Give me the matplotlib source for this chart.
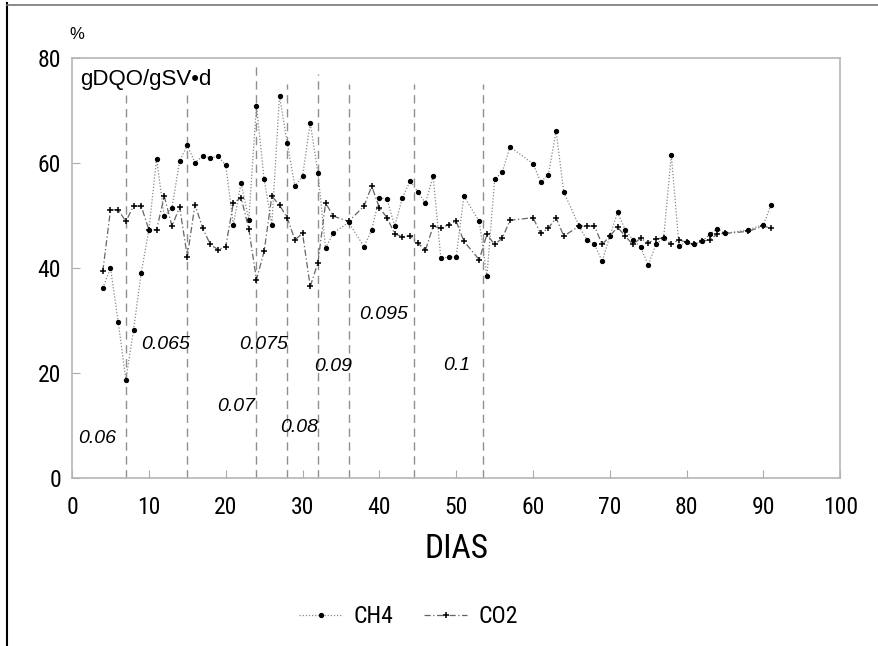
import matplotlib
matplotlib.use("Agg")
import matplotlib.pyplot as plt
from matplotlib.lines import Line2D
from matplotlib import font_manager

def pick_narrow():
    cands = []
    for f in font_manager.fontManager.ttflist:
        n = f.name
        low = f.fname.lower()
        if ('narrow' in n.lower() or 'condensed' in n.lower()) and 'bold' not in low \
                and 'italic' not in low and 'oblique' not in low:
            cands.append(f.name)
    for pref in ['Liberation Sans Narrow', 'Roboto Condensed', 'Open Sans Condensed']:
        if pref in cands:
            return pref
    return 'Liberation Sans'

NARROW = pick_narrow()

days = [4, 5, 6, 7, 8, 9, 10, 11, 12, 13, 14, 15, 16, 17, 18, 19, 20, 21, 22, 23,
        24, 25, 26, 27, 28, 29, 30, 31, 32, 33, 34, 36, 38, 39, 40, 41, 42, 43, 44,
        45, 46, 47, 48, 49, 50, 51, 53, 54, 55, 56, 57, 60, 61, 62, 63, 64, 66, 67,
        68, 69, 70, 71, 72, 73, 74, 75, 76, 77, 78, 79, 80, 81, 82, 83, 84, 85, 88,
        90, 91]

ch4 = [36.2, 40.0, 29.8, 18.7, 28.2, 39.1, 47.3, 60.8, 49.9, 51.5, 60.4, 63.4, 60.1,
       61.3, 61.0, 61.3, 59.6, 48.3, 56.2, 49.2, 70.9, 56.9, 48.3, 72.8, 63.9, 55.6,
       57.5, 67.7, 58.2, 43.8, 46.7, 48.7, 44.1, 47.3, 53.4, 53.1, 48.0, 53.4, 56.6,
       54.5, 52.4, 57.5, 41.9, 42.1, 42.2, 53.7, 48.9, 38.4, 56.9, 58.3, 63.1, 59.9,
       56.4, 57.8, 66.1, 54.5, 48.0, 45.4, 44.5, 41.3, 46.1, 50.6, 47.3, 45.4, 44.0,
       40.6, 44.5, 45.7, 61.6, 44.3, 44.9, 44.5, 45.1, 46.4, 47.5, 46.6, 47.3, 48.3,
       52.1]

co2 = [39.4, 51.1, 51.1, 48.9, 51.8, 51.8, 47.3, 47.3, 53.7, 48.0, 51.6, 42.2, 52.1,
       47.6, 44.5, 43.5, 44.1, 52.4, 53.4, 47.5, 37.8, 43.2, 53.7, 52.0, 49.6, 45.4,
       46.6, 36.5, 41.0, 52.4, 49.9, 48.9, 51.8, 55.6, 51.5, 49.6, 46.5, 46.0, 46.1,
       44.8, 43.4, 48.0, 47.6, 48.3, 48.9, 45.1, 41.6, 46.4, 44.5, 45.7, 49.1, 49.6,
       46.6, 47.6, 49.6, 46.1, 48.0, 48.0, 48.0, 44.5, 46.1, 47.8, 46.1, 44.5, 45.7,
       44.8, 45.6, 45.7, 44.5, 45.4, 44.9, 44.5, 45.1, 45.4, 46.5, 46.6, 47.0, 48.0,
       47.6]

change_days = [7, 15, 24, 28, 32, 36, 44.5, 53.5]
line_tops = [73, 73, 79, 75, 77, 75, 75, 75]
load_labels = ["0.06", "0.065", "0.07", "0.075", "0.08", "0.09", "0.095", "0.1"]
label_x = [3.2, 12.2, 21.4, 24.9, 29.6, 34.0, 40.5, 50.1]
label_y = [7.6, 25.4, 13.6, 25.4, 9.7, 21.2, 31.1, 21.4]

x_ticks = [0, 10, 20, 30, 40, 50, 60, 70, 80, 90, 100]
y_ticks = [0, 20, 40, 60, 80]

fig = plt.figure(figsize=(8.79, 6.46), dpi=100)
ax = fig.add_axes([0.082, 0.260, 0.874, 0.650])

for d, top in zip(change_days, line_tops):
    ax.plot([d, d], [0, top], color='#8f8f8f', lw=1.0, dashes=(6, 4), zorder=1)

ax.plot(days, ch4, color='#888888', lw=0.9, ls=(0, (1, 1.5)), marker='o', ms=2.8,
        mfc='black', mec='black', label='CH4', zorder=3)
ax.plot(days, co2, color='#666666', lw=0.9, ls=(0, (5, 2, 1, 2)), marker='+', ms=5,
        mew=1.1, mec='black', label='CO2', zorder=3)

for t, lx, ly in zip(load_labels, label_x, label_y):
    ax.text(lx, ly, t, fontsize=14, style='italic', family='Liberation Sans',
            ha='center', va='center', zorder=4)

ax.text(1.0, 76, 'gDQO/gSV•d', fontsize=16, family=['Liberation Sans', 'DejaVu Sans'],
        ha='left', va='center')
ax.text(-0.3, 84.5, '%', fontsize=12, family='Liberation Sans', ha='left', va='center')

ax.set_xlim(0, 100)
ax.set_ylim(0, 80)
ax.set_xticks(x_ticks)
ax.set_yticks(y_ticks)
ax.set_xticklabels([str(v) for v in x_ticks], fontsize=17, family=NARROW)
ax.set_yticklabels([str(v) for v in y_ticks], fontsize=17, family=NARROW)
ax.tick_params(direction='in', length=6, color='#aaaaaa', pad=8)
ax.tick_params(axis='x', pad=13)
for s in ax.spines.values():
    s.set_color('#b5b5b5')
    s.set_linewidth(1.2)

ax.set_xlabel('DIAS', fontsize=24, family=NARROW, labelpad=10)

leg = fig.legend(loc='center', bbox_to_anchor=(0.465, 0.046), ncol=2, frameon=False,
                 prop={'family': NARROW, 'size': 17}, handlelength=1.8,
                 columnspacing=1.3, handletextpad=0.5)

fig.add_artist(Line2D([0.008, 0.008], [0.0, 0.995], transform=fig.transFigure,
                      color='black', lw=1.5))
fig.add_artist(Line2D([0.008, 1.0], [0.993, 0.993], transform=fig.transFigure,
                      color='#777777', lw=1.2))

fig.savefig('out.png', dpi=100)
